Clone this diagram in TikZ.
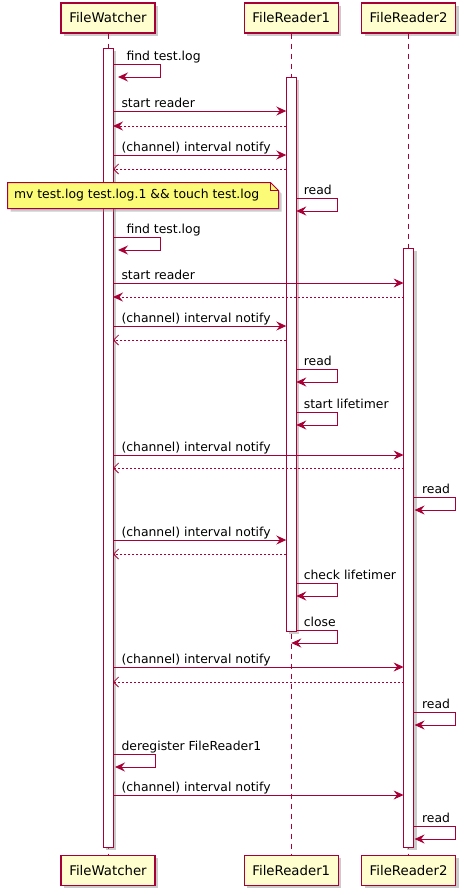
\documentclass[tikz,border=0pt]{standalone}
\usepackage{fontspec}
\setmainfont{DejaVu Sans}
\usetikzlibrary{arrows.meta,shadows,positioning}
\definecolor{umlred}{HTML}{A80036}
\definecolor{umlbox}{HTML}{FEFECE}
\definecolor{umlnote}{HTML}{FBFB77}
\newcommand{\msgfont}{\fontsize{12.4}{14}\selectfont}
\newcommand{\actorfont}{\fontsize{13.3}{15}\selectfont}

\begin{document}
\begin{tikzpicture}[x=1pt, y=-1pt, line width=1pt, font=\msgfont,
  shade/.style={drop shadow={shadow xshift=3pt, shadow yshift=-3pt, fill=black!45, opacity=.45}},
  actor/.style={draw=umlred, fill=umlbox, line width=1.3pt, minimum width=94pt, minimum height=30pt, inner sep=0pt, font=\actorfont, shade},
  actbar/.style={draw=umlred, fill=white, minimum width=10pt, inner sep=0pt, outer sep=0pt, shade},
  lifeline/.style={umlred, dash pattern=on 5pt off 5pt},
  call/.style={umlred, -{Stealth[length=10pt, width=9pt, inset=3.5pt]}},
  reply/.style={call, dash pattern=on 2pt off 2pt},
  async/.style={umlred, line width=.8pt, dash pattern=on 2pt off 2pt, -{Straight Barb[length=5pt, width=10pt]}},
  lbl/.style={anchor=base west, inner sep=0pt, text=black}]
\useasboundingbox (0,0) rectangle (467,895);

% participants
\node[actor] (fwTop) at (108,18) {FileWatcher};
\node[actor, right=88pt of fwTop] (frOneTop) {FileReader1};
\node[actor, right=22pt of frOneTop] (frTwoTop) {FileReader2};
\node[actor, below=821pt of fwTop] (fwBot) {FileWatcher};
\node[actor, below=821pt of frOneTop] (frOneBot) {FileReader1};
\node[actor, below=821pt of frTwoTop] (frTwoBot) {FileReader2};

\draw[lifeline] (fwTop) -- (fwBot);
\draw[lifeline] (frOneTop) -- (frOneBot);
\draw[lifeline] (frTwoTop) -- (frTwoBot);

% activations
\node[actbar, minimum height=799pt] (fwAct) at (fwTop |- 0,447.5) {};
\node[actbar, minimum height=554pt] (frOneAct) at (frOneTop |- 0,354) {};
\node[actbar, minimum height=599pt] (frTwoAct) at (frTwoTop |- 0,547.5) {};

% messages from FileWatcher
\foreach \y/\dst/\txt in {111/frOneAct/start reader, 155/frOneAct/(channel) interval notify,
    283/frTwoAct/start reader, 326/frOneAct/(channel) interval notify,
    455/frTwoAct/(channel) interval notify, 540/frOneAct/(channel) interval notify,
    667/frTwoAct/(channel) interval notify, 795/frTwoAct/(channel) interval notify}
  \draw[call] (fwAct.east |- 0,\y) -- (\dst.west |- 0,\y)
    node[lbl, pos=0, xshift=8pt, yshift=4pt] (msg\y) {\txt};

% answers
\foreach \y/\src in {126/frOneAct, 297/frTwoAct}
  \draw[reply] (\src.west |- 0,\y) -- (fwAct.east |- 0,\y);
\foreach \y/\src in {169/frOneAct, 340/frOneAct, 468/frTwoAct, 554/frOneAct, 682/frTwoAct}
  \draw[async] (\src.west |- 0,\y) -- (fwAct.east |- 0,\y);

% self calls
\foreach \act/\y/\w/\d/\lx/\txt in {fwAct/64/47/5/13/find test.log, frOneAct/198/41/0/7/read,
    fwAct/237/47/5/13/find test.log, frOneAct/369/41/0/7/read,
    frOneAct/412/41/0/7/start lifetimer, frTwoAct/497/42/1/8/read,
    frOneAct/583/41/0/7/check lifetimer, frTwoAct/712/42/1/8/read,
    fwAct/754/42/2/8/deregister FileReader1, frTwoAct/826/42/1/8/read}
  \draw[call] (\act.east |- 0,\y) -- ++(\w,0)
    node[lbl, pos=0, xshift=\lx pt, yshift=4pt] (self\y) {\txt}
    -- ++(0,13) -- ++(-\w+\d,0);
\draw[call] (frOneAct.east |- 0,630) -- ++(41,0)
    node[lbl, pos=0, xshift=7pt, yshift=4pt] (selfClose) {close}
    -- ++(0,13) -- (frOneTop |- 0,643);

% note
\node[minimum width=270pt, minimum height=25pt, inner sep=0pt] (note) at (143,195.5) {};
\filldraw[draw=umlred, fill=umlnote, shade] (note.south west) -- (note.north west)
  -- ([xshift=-8pt]note.north east) -- ([yshift=-8pt]note.north east)
  -- (note.south east) -- cycle;
\draw[umlred] ([xshift=-8pt]note.north east) -- ++(0,8) -- ++(8,0);
\node[anchor=west, inner sep=0pt] (noteText) at ([xshift=6pt]note.west)
  {mv test.log test.log.1 \&\& touch test.log};
\end{tikzpicture}
\end{document}
